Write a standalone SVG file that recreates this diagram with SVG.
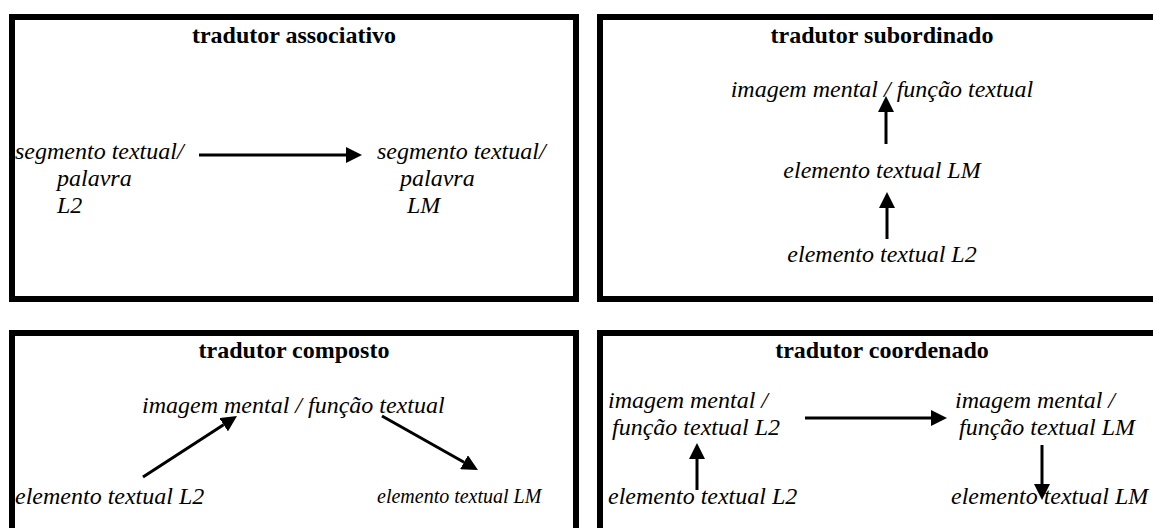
<svg xmlns="http://www.w3.org/2000/svg" width="1153" height="528" viewBox="0 0 1153 528">
<style>
.box{fill:#fff;stroke:#000;stroke-width:6}
.t{font-family:"Liberation Serif","Times New Roman",serif;font-size:24px;fill:#000}
.b{font-weight:bold;text-anchor:middle}
.i{font-style:italic}
.m{text-anchor:middle}
.c{stroke:#000;stroke-width:3;fill:none;marker-end:url(#ah)}
</style>
<defs>
<marker id="ah" markerUnits="userSpaceOnUse" viewBox="0 0 16 16" markerWidth="16" markerHeight="16" refX="0" refY="8" orient="auto">
<path d="M0,0 L16,8 L0,16 Z" fill="#000"/>
</marker>
</defs>
<rect width="1153" height="528" fill="#fff"/>
<g id="assoc">
<rect class="box" x="12" y="17" width="564" height="282"/>
<text class="t b" x="294" y="43">tradutor associativo</text>
<text class="t i" x="15" y="159">segmento textual/</text>
<text class="t i" x="57" y="186">palavra</text>
<text class="t i" x="57" y="213">L2</text>
<text class="t i" x="377" y="159">segmento textual/</text>
<text class="t i" x="400" y="186">palavra</text>
<text class="t i" x="407" y="213">LM</text>
</g>
<g id="subord">
<rect class="box" x="600" y="17" width="564" height="282"/>
<text class="t b" x="882" y="43">tradutor subordinado</text>
<text class="t i m" x="882" y="97">imagem mental / função textual</text>
<text class="t i m" x="882" y="178">elemento textual LM</text>
<text class="t i m" x="882" y="262">elemento textual L2</text>
</g>
<g id="composto">
<rect class="box" x="12" y="333" width="564" height="260"/>
<text class="t b" x="294" y="358">tradutor composto</text>
<text class="t i" x="142" y="413">imagem mental / função textual</text>
<text class="t i" x="15" y="504">elemento textual L2</text>
<text class="t i" x="377" y="503" style="font-size:20px">elemento textual LM</text>
</g>
<g id="coord">
<rect class="box" x="600" y="333" width="564" height="260"/>
<text class="t b" x="882" y="358">tradutor coordenado</text>
<text class="t i" x="608" y="408">imagem mental /</text>
<text class="t i" x="612" y="435">função textual L2</text>
<text class="t i" x="955" y="408">imagem mental /</text>
<text class="t i" x="959" y="435">função textual LM</text>
<text class="t i" x="608" y="504">elemento textual L2</text>
<text class="t i" x="951" y="504">elemento textual LM</text>
</g>
<g id="connectors">
<line class="c" x1="199" y1="155" x2="346" y2="155"/>
<line class="c" x1="886" y1="144" x2="886" y2="112"/>
<line class="c" x1="887" y1="239" x2="887" y2="208"/>
<line class="c" x1="143" y1="477" x2="223.6" y2="424.7"/>
<line class="c" x1="382" y1="416" x2="464" y2="462.2"/>
<line class="c" x1="805" y1="418" x2="931" y2="418"/>
<line class="c" x1="697" y1="490" x2="697" y2="459"/>
<line class="c" x1="1042" y1="445" x2="1042" y2="484"/>
</g>
</svg>
